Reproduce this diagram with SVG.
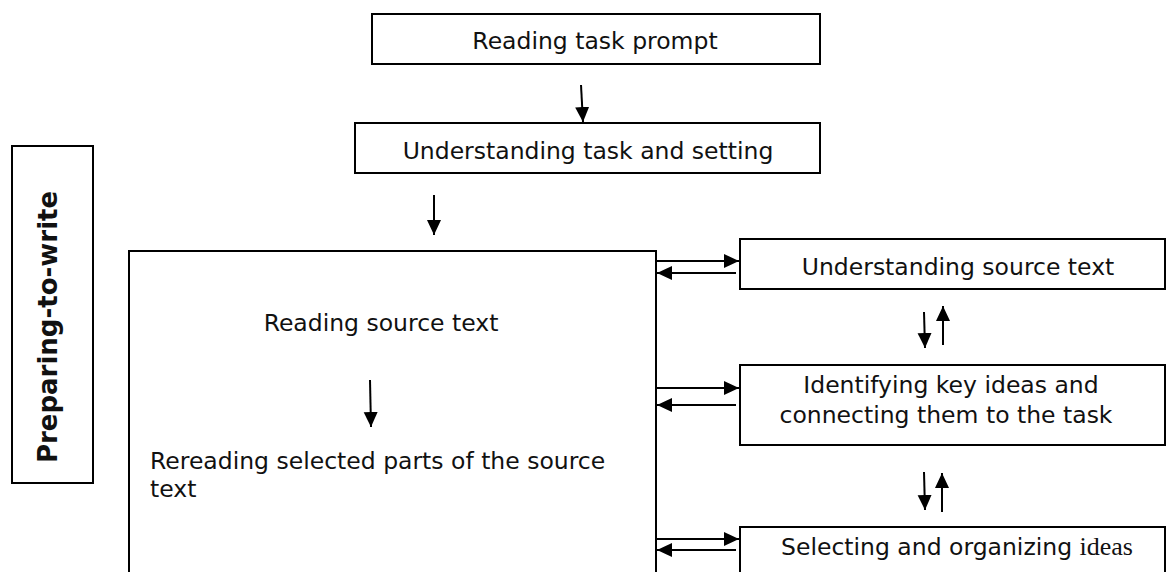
<svg xmlns="http://www.w3.org/2000/svg" width="1166" height="572" viewBox="0 0 1166 572">
<style>
.box{fill:#fff;stroke:#000;stroke-width:2}
.t{font-family:"DejaVu Sans",Verdana,sans-serif;font-size:23.5px;fill:#111}
.c{text-anchor:middle}
.lbl{font-family:"DejaVu Sans",Verdana,sans-serif;font-size:26px;font-weight:bold;fill:#111;text-anchor:middle}
.ser{font-family:"Liberation Serif","Times New Roman",serif;font-size:26px}
.ar{stroke:#000;stroke-width:2;fill:none;marker-end:url(#ah)}
</style>
<defs>
<marker id="ah" markerUnits="userSpaceOnUse" markerWidth="16" markerHeight="15" refX="15" refY="7" orient="auto" viewBox="0 0 16 15">
<path d="M0,0 L15,7 L0,14 Z" fill="#000"/>
</marker>
</defs>
<rect width="1166" height="572" fill="#fff"/>
<g id="n-prepare">
<rect class="box" x="12" y="146" width="81" height="337"/>
<text class="lbl" transform="translate(57,327) rotate(-90)">Preparing-to-write</text>
</g>
<g id="n-prompt">
<rect class="box" x="372" y="14" width="448" height="50"/>
<text class="t c" x="595" y="49">Reading task prompt</text>
</g>
<g id="n-task">
<rect class="box" x="355" y="123" width="465" height="50"/>
<text class="t c" x="588" y="159">Understanding task and setting</text>
</g>
<g id="n-source">
<rect class="box" x="129" y="251" width="527" height="340"/>
<text class="t c" x="381" y="331">Reading source text</text>
<text class="t" x="150" y="469">Rereading selected parts of the source</text>
<text class="t" x="150" y="497">text</text>
</g>
<g id="n-understand">
<rect class="box" x="740" y="239" width="425" height="50"/>
<text class="t c" x="958" y="275">Understanding source text</text>
</g>
<g id="n-identify">
<rect class="box" x="740" y="365" width="425" height="80"/>
<text class="t c" x="951" y="393">Identifying key ideas and</text>
<text class="t c" x="946" y="423">connecting them to the task</text>
</g>
<g id="n-select">
<rect class="box" x="740" y="527" width="425" height="60"/>
<text class="t c" x="957" y="555">Selecting and organizing <tspan class="ser">ideas</tspan></text>
</g>
<g id="connectors">
<line class="ar" x1="581" y1="85" x2="583" y2="122"/>
<line class="ar" x1="434" y1="195" x2="434" y2="235"/>
<line class="ar" x1="370" y1="380" x2="371" y2="427"/>
<line class="ar" x1="656" y1="261" x2="739" y2="261"/>
<line class="ar" x1="736" y1="273" x2="657" y2="273"/>
<line class="ar" x1="656" y1="388" x2="739" y2="388"/>
<line class="ar" x1="736" y1="405" x2="657" y2="405"/>
<line class="ar" x1="656" y1="539" x2="739" y2="539"/>
<line class="ar" x1="736" y1="550" x2="657" y2="550"/>
<line class="ar" x1="924" y1="312" x2="925" y2="348"/>
<line class="ar" x1="943" y1="345" x2="943" y2="306"/>
<line class="ar" x1="924" y1="472" x2="925" y2="510"/>
<line class="ar" x1="942" y1="512" x2="942" y2="473"/>
</g>
</svg>
